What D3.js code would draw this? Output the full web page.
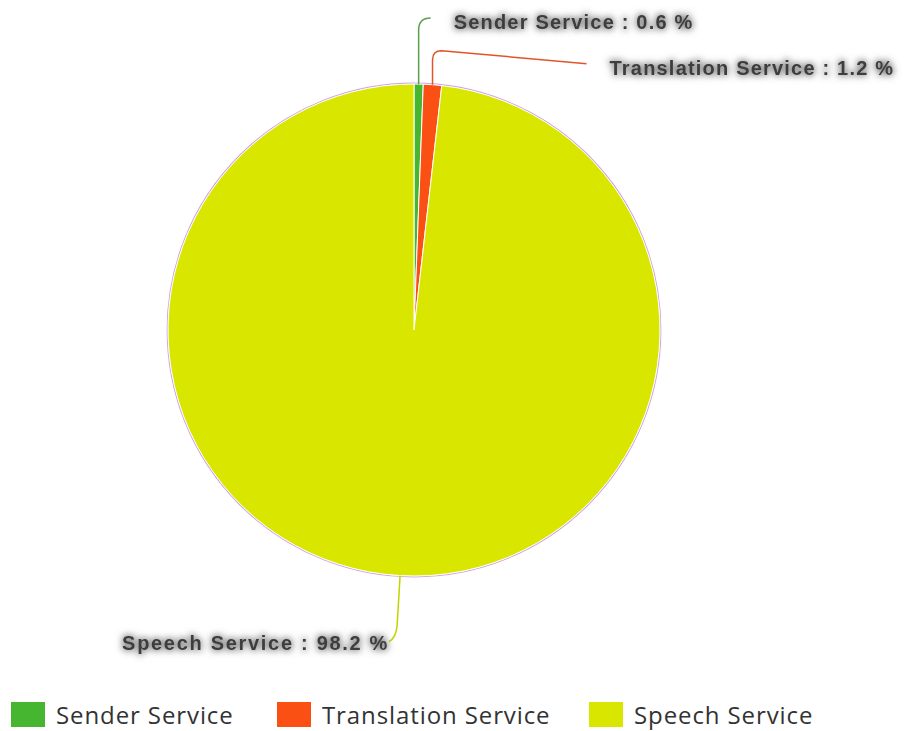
<!DOCTYPE html>
<html>
<head>
<meta charset="utf-8">
<script src="https://cdn.jsdelivr.net/npm/d3@7"></script>
<style>
html,body{margin:0;padding:0;background:#fff;}
svg{display:block;}
</style>
</head>
<body>
<svg id="chart" width="907" height="731"></svg>
<script>
const categories = ["Sender Service", "Translation Service", "Speech Service"];
const values = [0.6, 1.2, 98.2];
const colors = ["#46b52f", "#fb5014", "#d9e600"];
const lineColors = ["#5aa04a", "#e2542a", "#c2d400"];

const svg = d3.select("#chart");
const cx = 414, cy = 330, R = 246;

const defs = svg.append("defs");
const f = defs.append("filter").attr("id","glow").attr("x","-20%").attr("y","-60%").attr("width","140%").attr("height","220%");
f.append("feMorphology").attr("in","SourceAlpha").attr("operator","dilate").attr("radius",1.2).attr("result","d");
f.append("feGaussianBlur").attr("in","d").attr("stdDeviation",3.5).attr("result","b");
f.append("feFlood").attr("flood-color","#6e6e6e").attr("flood-opacity",0.85);
f.append("feComposite").attr("in2","b").attr("operator","in").attr("result","s");
const m = f.append("feMerge");
m.append("feMergeNode").attr("in","s");
m.append("feMergeNode").attr("in","SourceGraphic");

const data = categories.map((c,i)=>({name:c, value:values[i], color:colors[i], line:lineColors[i]}));
const pie = d3.pie().value(d=>d.value).sort(null).startAngle(0).endAngle(2*Math.PI);
const arcs = pie(data);
const arc = d3.arc().innerRadius(0).outerRadius(R);

const g = svg.append("g").attr("transform",`translate(${cx},${cy})`);
g.append("circle").attr("r",R+0.8).attr("fill","none").attr("stroke","#cfa6e0").attr("stroke-width",1.2);
g.selectAll("path.slice").data(arcs).enter().append("path")
  .attr("class","slice")
  .attr("d",arc)
  .attr("fill",d=>d.data.color)
  .attr("stroke","#ffffff")
  .attr("stroke-width",1);

function edge(d){
  const a=(d.startAngle+d.endAngle)/2;
  return [cx+Math.sin(a)*R, cy-Math.cos(a)*R];
}
const fmt = d=>`${d.data.name} : ${d.data.value} %`;

(function(){
  const d=arcs[0]; const [x,y]=edge(d);
  const p=d3.path();
  p.moveTo(x,y); p.lineTo(x,y-54); p.quadraticCurveTo(x,y-66,x+12,y-66);
  svg.append("path").attr("d",p.toString()).attr("fill","none").attr("stroke",d.data.line).attr("stroke-width",1.5);
  svg.append("text").attr("x",x+35).attr("y",y-55).text(fmt(d)).attr("class","lbl");
})();
(function(){
  const d=arcs[1]; const [x,y]=edge(d);
  const p=d3.path();
  p.moveTo(x,y); p.lineTo(x,y-25); p.quadraticCurveTo(x,y-34,x+9,y-34); p.lineTo(x+154,y-21);
  svg.append("path").attr("d",p.toString()).attr("fill","none").attr("stroke",d.data.line).attr("stroke-width",1.5);
  svg.append("text").attr("x",x+177).attr("y",y-10).text(fmt(d)).attr("class","lbl");
})();
(function(){
  const d=arcs[2]; const [x,y]=edge(d);
  const p=d3.path();
  p.moveTo(x,y); p.lineTo(x-3,y+50); p.quadraticCurveTo(x-4,y+62,x-11,y+66);
  svg.append("path").attr("d",p.toString()).attr("fill","none").attr("stroke",d.data.line).attr("stroke-width",1.5);
  svg.append("text").attr("x",x-278).attr("y",y+74).attr("letter-spacing",1.7).text(fmt(d)).attr("class","lbl");
})();

svg.selectAll("text.lbl")
  .attr("font-family","Liberation Sans, Arial, sans-serif")
  .attr("font-weight","bold")
  .attr("font-size",20)
  .attr("fill","#3c3c3c")
  .attr("filter","url(#glow)")
  .each(function(){ if(!this.getAttribute("letter-spacing")) this.setAttribute("letter-spacing",1.2); });

const legendX = [11, 277, 589];
const lg = svg.append("g");
data.forEach((d,i)=>{
  lg.append("rect").attr("x",legendX[i]).attr("y",702).attr("width",34).attr("height",25).attr("fill",d.color);
  lg.append("text").attr("x",legendX[i]+45).attr("y",724)
    .attr("font-family","Open Sans, sans-serif").attr("font-size",24).attr("letter-spacing",0.9).attr("fill","#333")
    .text(d.name);
});
</script>
</body>
</html>
